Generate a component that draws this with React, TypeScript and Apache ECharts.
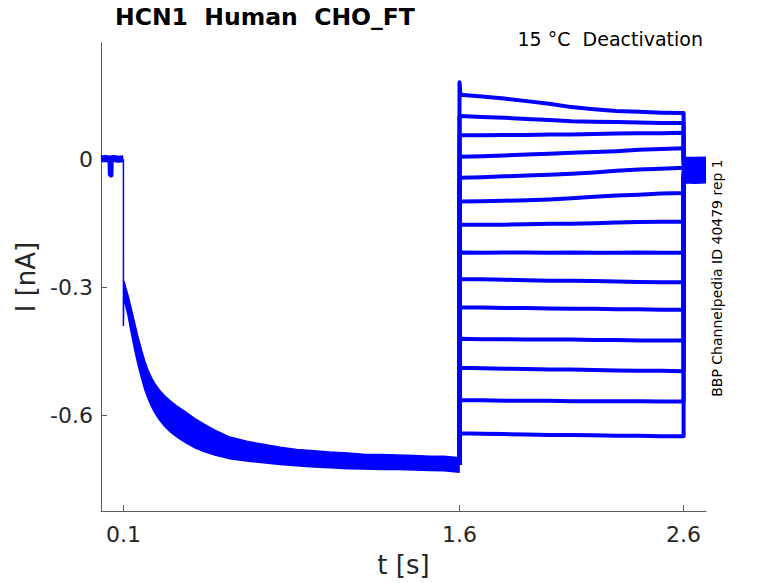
import React, { useEffect, useRef } from "react";
import * as echarts from "echarts";

// ---------- data ----------
const xTicks = [0.1, 1.6, 2.6];
const yTicks = [-0.6, -0.3, 0];

// holding segment before the step (s, nA)
const baseline: number[][] = [
  [0, 0.001], [0.02, 0.002], [0.035, 0.0], [0.055, 0.002], [0.075, 0.0], [0.1, 0.001],
];
const baselineDip: number[][] = [
  [0.036, 0.0], [0.037, -0.036], [0.045, -0.04], [0.049, -0.038], [0.05, 0.0],
];
const stepDrop: number[][] = [
  [0.1, 0.0], [0.1, -0.39], [0.102, -0.3],
];

// activation envelope of all sweeps (upper and lower edges)
const actUpper: number[][] = [
  [0.102, -0.285], [0.11, -0.3], [0.121, -0.32], [0.136, -0.352], [0.151, -0.385],
  [0.166, -0.418], [0.181, -0.447], [0.195, -0.472], [0.21, -0.494], [0.225, -0.511],
  [0.24, -0.525], [0.26, -0.54], [0.285, -0.554], [0.31, -0.566], [0.34, -0.578],
  [0.374, -0.59], [0.419, -0.607], [0.46, -0.62], [0.508, -0.634], [0.575, -0.65],
  [0.65, -0.66], [0.724, -0.667], [0.8, -0.674], [0.873, -0.679], [0.95, -0.682],
  [1.022, -0.685], [1.1, -0.687], [1.171, -0.69], [1.25, -0.691], [1.32, -0.692],
  [1.4, -0.693], [1.469, -0.695], [1.53, -0.695], [1.598, -0.698],
];
const actLower: number[][] = [
  [0.102, -0.33], [0.11, -0.342], [0.121, -0.366], [0.136, -0.408], [0.151, -0.447],
  [0.166, -0.482], [0.181, -0.512], [0.195, -0.538], [0.21, -0.56], [0.225, -0.578],
  [0.24, -0.593], [0.26, -0.609], [0.285, -0.625], [0.31, -0.638], [0.34, -0.65],
  [0.374, -0.662], [0.419, -0.675], [0.46, -0.684], [0.508, -0.692], [0.575, -0.701],
  [0.65, -0.706], [0.724, -0.71], [0.8, -0.714], [0.873, -0.717], [0.95, -0.72],
  [1.022, -0.722], [1.1, -0.724], [1.171, -0.725], [1.25, -0.726], [1.32, -0.726],
  [1.4, -0.727], [1.469, -0.728], [1.53, -0.729], [1.598, -0.732],
];
const activationEnd = -0.715;

// tail (deactivation) step, 14 sweeps
const tailT = [1.6, 1.604, 1.7, 1.8, 1.9, 2.0, 2.1, 2.2, 2.3, 2.4, 2.5, 2.6];
const tail1 = [0.18, 0.151, 0.147, 0.142, 0.136, 0.13, 0.122, 0.117, 0.113, 0.111, 0.109, 0.108];
const tail2 = [0.101, 0.101, 0.099, 0.097, 0.094, 0.092, 0.089, 0.088, 0.087, 0.086, 0.085, 0.085];
const tail3 = [0.056, 0.056, 0.056, 0.057, 0.057, 0.058, 0.058, 0.059, 0.06, 0.061, 0.061, 0.062];
const tail4 = [0.005, 0.006, 0.007, 0.009, 0.011, 0.013, 0.015, 0.017, 0.019, 0.022, 0.024, 0.026];
const tail5 = [-0.044, -0.043, -0.042, -0.04, -0.038, -0.036, -0.034, -0.031, -0.027, -0.024, -0.022, -0.02];
const tail6 = [-0.099, -0.099, -0.098, -0.097, -0.096, -0.094, -0.091, -0.088, -0.085, -0.083, -0.08, -0.079];
const tail7 = [-0.154, -0.153, -0.153, -0.153, -0.152, -0.151, -0.151, -0.15, -0.148, -0.147, -0.146, -0.146];
const tail8 = [-0.218, -0.218, -0.219, -0.218, -0.218, -0.219, -0.218, -0.219, -0.219, -0.218, -0.219, -0.219];
const tail9 = [-0.279, -0.28, -0.281, -0.282, -0.283, -0.284, -0.284, -0.285, -0.286, -0.287, -0.288, -0.288];
const tail10 = [-0.345, -0.346, -0.347, -0.348, -0.348, -0.349, -0.35, -0.35, -0.351, -0.351, -0.352, -0.352];
const tail11 = [-0.42, -0.42, -0.421, -0.421, -0.422, -0.422, -0.422, -0.423, -0.423, -0.424, -0.424, -0.424];
const tail12 = [-0.487, -0.488, -0.489, -0.49, -0.491, -0.492, -0.492, -0.493, -0.494, -0.495, -0.495, -0.496];
const tail13 = [-0.563, -0.564, -0.564, -0.565, -0.565, -0.565, -0.566, -0.566, -0.566, -0.566, -0.567, -0.567];
const tail14 = [-0.64, -0.641, -0.642, -0.643, -0.644, -0.645, -0.645, -0.646, -0.647, -0.647, -0.648, -0.648];
const tails = [tail1, tail2, tail3, tail4, tail5, tail6, tail7, tail8, tail9, tail10, tail11, tail12, tail13, tail14];

// return to holding potential after 2.6 s
const returnT = [2.6, 2.65, 2.7];
const returnLevels = [
  [-0.005, -0.004, -0.004], [-0.01, -0.011, -0.01], [0.002, 0.001, 0.002], [-0.02, -0.019, -0.02],
  [-0.015, -0.016, -0.014], [-0.03, -0.029, -0.03], [-0.025, -0.026, -0.025], [-0.04, -0.039, -0.04],
  [-0.035, -0.034, -0.035], [-0.045, -0.046, -0.045], [-0.05, -0.049, -0.05], [-0.052, -0.053, -0.052],
  [-0.042, -0.043, -0.042], [-0.047, -0.047, -0.048],
];

const BLUE = "#0000ff";
const TXT = "#262626";
const FONT = "DejaVu Sans";

export default function App() {
  const ref = useRef<HTMLDivElement>(null);
  useEffect(() => {
    if (!ref.current) return;
    const chart = echarts.init(ref.current, undefined, { renderer: "svg" });

    const sweepSeries = tails.map((tv, k) => {
      const data: number[][] = [[1.6, activationEnd]];
      tv.forEach((v, i) => data.push([tailT[i], v]));
      returnLevels[k].forEach((v, i) => data.push([returnT[i], v]));
      return {
        type: "line",
        data,
        showSymbol: false,
        symbol: "none",
        lineStyle: { color: BLUE, width: 4, join: "round" },
        z: 3,
      };
    });

    const bandPoly = {
      type: "custom",
      data: [0],
      renderItem: (_p: any, api: any) => {
        const pts = actUpper.map((d) => api.coord(d)).concat(
          actLower.slice().reverse().map((d) => api.coord(d))
        );
        return {
          type: "polygon",
          shape: { points: pts },
          style: { fill: BLUE, stroke: BLUE, lineWidth: 1.5 },
        };
      },
      z: 2,
    };

    chart.setOption({
      animation: false,
      grid: { left: 101, right: 72, top: 43, bottom: 71, containLabel: false },
      xAxis: {
        type: "value",
        min: 0,
        max: 2.7,
        name: "t [s]",
        nameLocation: "middle",
        nameGap: 41,
        nameTextStyle: { color: TXT, fontSize: 26, fontFamily: FONT },
        axisLine: { show: true, onZero: false, lineStyle: { color: "#5a5a5a", width: 1 } },
        axisTick: { show: true, inside: true, length: 6, customValues: xTicks, lineStyle: { color: "#5a5a5a" } },
        axisLabel: { customValues: xTicks, color: TXT, fontSize: 22, fontFamily: FONT, margin: 12 },
        splitLine: { show: false },
      },
      yAxis: {
        type: "value",
        min: -0.823,
        max: 0.272,
        name: "I [nA]",
        nameLocation: "middle",
        nameGap: 58,
        nameTextStyle: { color: TXT, fontSize: 26, fontFamily: FONT },
        axisLine: { show: true, onZero: false, lineStyle: { color: "#5a5a5a", width: 1 } },
        axisTick: { show: true, inside: true, length: 6, customValues: yTicks, lineStyle: { color: "#5a5a5a" } },
        axisLabel: { customValues: yTicks, color: TXT, fontSize: 22, fontFamily: FONT, margin: 8 },
        splitLine: { show: false },
      },
      graphic: [
        {
          type: "text",
          left: 115,
          top: 5,
          style: { text: "HCN1  Human  CHO_FT", font: `bold 23.5px ${FONT}`, fill: "#000" },
        },
        {
          type: "text",
          right: 75,
          top: 29,
          style: { text: "15 °C  Deactivation", font: `19px ${FONT}`, fill: "#000" },
        },
        {
          type: "text",
          x: 717,
          y: 278,
          rotation: Math.PI / 2,
          style: {
            text: "BBP Channelpedia ID 40479 rep 1",
            font: `14px ${FONT}`,
            fill: "#000",
            align: "center",
            verticalAlign: "middle",
          },
        },
      ],
      series: [
        {
          type: "line",
          data: baseline,
          showSymbol: false,
          symbol: "none",
          lineStyle: { color: BLUE, width: 7 },
          z: 3,
        },
        {
          type: "line",
          data: baselineDip,
          showSymbol: false,
          symbol: "none",
          lineStyle: { color: BLUE, width: 3 },
          z: 3,
        },
        {
          type: "line",
          data: stepDrop,
          showSymbol: false,
          symbol: "none",
          lineStyle: { color: BLUE, width: 1.5 },
          z: 3,
        },
        bandPoly,
        ...sweepSeries,
      ],
    });
    return () => chart.dispose();
  }, []);

  return (
    <div
      ref={ref}
      style={{ position: "fixed", left: 0, top: 0, width: 778, height: 583, background: "#fff" }}
    />
  );
}
